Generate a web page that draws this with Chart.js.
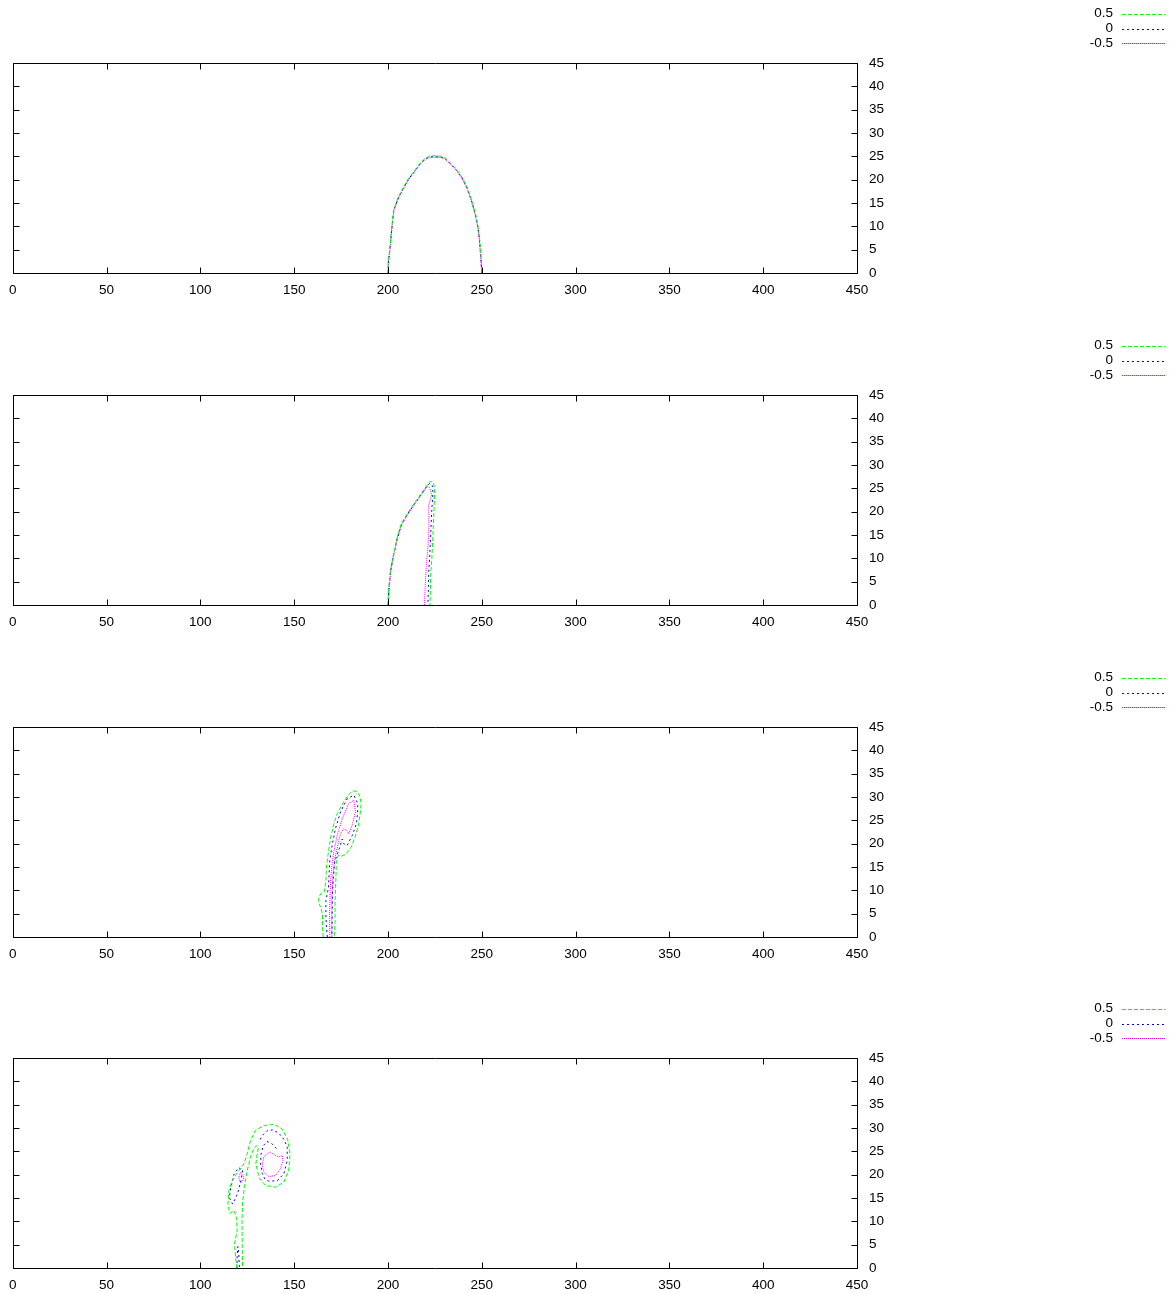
<!DOCTYPE html>
<html>
<head>
<meta charset="utf-8">
<script src="https://cdn.jsdelivr.net/npm/chart.js@4/dist/chart.umd.min.js"></script>
<style>
  html, body { margin: 0; padding: 0; background: #fff; }
  body { width: 1176px; height: 1294px; position: relative; overflow: hidden; }
  .panel { position: absolute; left: 0; width: 1176px; height: 331px; }
</style>
</head>
<body>
<div class="panel" style="top:0px"><canvas id="c1" width="1176" height="331"></canvas></div>
<div class="panel" style="top:332px"><canvas id="c2" width="1176" height="331"></canvas></div>
<div class="panel" style="top:664px"><canvas id="c3" width="1176" height="331"></canvas></div>
<div class="panel" style="top:995px"><canvas id="c4" width="1176" height="331"></canvas></div>
<script>
// ---------- tick labels & levels ----------
const xTicks = [0, 50, 100, 150, 200, 250, 300, 350, 400, 450];
const yTicks = [0, 5, 10, 15, 20, 25, 30, 35, 40, 45];
const levelLabels = ['0.5', '0', '-0.5'];

// ---------- panel 1 contours [x, y] ----------
const p1Green = [[200,0],[200.1,2.5],[200.9,4.9],[201.8,9],[203,13.5],[205.5,16.3],[208.4,18.5],[211,20.3],[213.7,21.7],[216.8,23.4],[219.9,24.6],[222.5,25.1],[226.2,25.1],[228.5,25],[230.6,24.6],[233.5,23.5],[236.8,22.1],[239.5,20.5],[242.1,18.5],[244.5,15.8],[246.6,12.8],[248,10],[248.9,7.1],[249.6,3.5],[250.1,0]];
const p1Blue = [[200.1,0],[200.2,2.5],[201,4.9],[201.9,9],[203.1,13.5],[205.6,16.2],[208.5,18.4],[211.1,20.2],[213.8,21.6],[216.9,23.3],[220,24.5],[222.5,24.9],[226.2,24.9],[228.5,24.8],[230.5,24.5],[233.4,23.4],[236.7,22],[239.4,20.4],[242,18.4],[244.4,15.7],[246.5,12.7],[247.9,10],[248.8,7.1],[249.5,3.5],[250,0]];
const p1Magenta = [[200.2,0],[200.3,2.5],[201.1,4.9],[202,9],[203.2,13.4],[205.7,16.1],[208.6,18.3],[211.2,20.1],[213.9,21.5],[217,23.2],[220.1,24.4],[222.5,24.8],[226.2,24.8],[228.5,24.7],[230.4,24.4],[233.3,23.3],[236.6,21.9],[239.3,20.3],[241.9,18.3],[244.3,15.6],[246.4,12.6],[247.8,9.9],[248.7,7],[249.4,3.5],[249.9,0]];

// ---------- panel 2 ----------
const p2Green = [[200,0],[200.3,3],[201.3,7.3],[203,11],[204.9,14.5],[207.2,17.5],[210.2,19.5],[213.5,21.5],[216.4,23.1],[219,24.6],[221,25.8],[222.6,26.5],[224.3,26.2],[224.9,24.8],[224.5,20],[223.9,14.5],[223.4,10],[222.8,7],[222.6,3],[222.4,0]];
const p2Blue = [[200.1,0],[200.4,3],[201.4,7.3],[203.1,11],[205,14.4],[207.3,17.4],[210.3,19.4],[213.6,21.4],[216.5,23],[219.1,24.5],[221,25.6],[222.3,26.1],[223.6,25.6],[224,24.2],[223.3,20],[222.7,14.5],[222.2,10],[221.7,7],[221.5,3],[221.3,0]];
const p2Magenta = [[200.2,0],[200.5,3],[201.5,7.3],[203.2,11],[205.1,14.3],[207.4,17.3],[210.4,19.3],[213.7,21.3],[216.6,22.9],[219,24.3],[220.8,25.4],[222.2,25.2],[223.3,23.6],[221.7,21.4],[221.8,18],[221.7,14.5],[221,11],[220.5,8.8],[219.9,4.5],[219.4,0]];

// ---------- panel 3 ----------
const p3Green = [[165.5,0],[165.1,2],[165.1,4.9],[164.2,6.3],[163,7.4],[163.2,8.5],[164.2,9.3],[166,9.6],[166.9,12],[167.2,15],[168,17.5],[169.3,21],[171.1,24.2],[173,26.5],[175.6,28.4],[178.5,30.3],[181.2,31.3],[183.3,31.2],[185,30.2],[185.7,28.5],[185.3,26.8],[184.3,24],[182.5,21.5],[180.5,19.3],[177.5,17.7],[175,17.3],[173.5,17.5],[172.5,16.4],[172.2,12],[171.8,7.8],[171.8,3.4],[171.3,0]];
const p3Blue = [[167.7,0],[167.2,2],[166.9,4.9],[166.9,7.8],[168.3,10.6],[168.6,13.5],[169,16.4],[170.2,19.6],[172,23.2],[174.7,26.8],[178.2,29.6],[181.8,30.4],[183.9,28.6],[183.8,26.5],[183.2,24.3],[180.9,21.7],[178.2,19.6],[176.4,20],[175.6,21],[174.5,19.5],[171.5,16],[170.8,12],[170.4,9.2],[170.1,0]];
const p3Magenta = [[169,0],[168.9,5],[169.2,10],[169.6,13],[170.2,15.6],[171.1,18.2],[172.9,21.7],[175.6,25.3],[179.1,28.6],[181.8,29.3],[182.7,26.8],[180.9,23.9],[179.1,22.1],[178.2,22.8],[176.4,23.2],[174.7,22.1],[173.8,20.7],[171.8,17],[170.6,13],[170.1,8],[170.1,0]];

// ---------- panel 4 ----------
const p4Green = [[119.6,0],[118.8,2.2],[118.2,5.1],[119.6,8],[119.3,10.8],[117.9,12.3],[115.7,11.7],[114.7,13.7],[115.2,16.6],[117,18.7],[120.5,20.9],[123.2,22.3],[125,24.5],[126.7,27.3],[129.4,29.5],[133.8,30.5],[139.2,30.8],[143.6,29.8],[146.5,27.6],[147.8,24.5],[147.1,21],[144.5,18.4],[140,17.3],[134.7,17.7],[131.2,19.4],[129.6,22.3],[130.3,24.5],[131,25.8],[129.8,26.2],[128.3,25.4],[126.7,23.8],[125,20.9],[123.5,17.5],[122.5,14],[122.2,10],[122.3,5],[122.5,0]];
const p4Blue1 = [[140.5,25.6],[138,26.7],[135.5,27.1],[133.5,26.2],[132.3,24.3],[132.1,22.3],[133,20.2],[134.5,19],[136.5,18.6],[141,18.7],[144.5,20.2],[146.3,23],[146.3,25.9],[144.5,27.6],[141.8,28.9],[138.5,29.6],[135.5,29.4],[133,28.4],[131.5,27.2]];
const p4Blue2 = [[122.5,20.9],[121.6,18.7],[119.8,15.9],[117.2,13.7],[115.4,15.1],[116.3,17.3],[118,20.2],[120.5,21.5],[122.5,20.9]];
const p4Blue3 = [[119.5,0],[119.6,2.5],[120,4.6],[120.5,3],[120.8,0]];
const p4Magenta1 = [[133.8,23.8],[135.6,24.5],[137.4,24.8],[140,24.1],[141.8,23.8],[143.6,24.1],[144,23],[142.7,21.3],[140,19.8],[136.5,19.6],[133.8,20.5],[133,22],[133.8,23.8]];
const p4Magenta2 = [[120.5,19.5],[121.5,20.5],[122.8,20],[123,19],[122,18.3],[120.8,18.6],[120.5,19.5]];

// ---------- styles ----------
const levelColors = ['#00ff00', '#0000ff', '#ff00ff'];
const levelDash = [[4, 2], [2, 3], [1, 1]];

const panels = [
  { id: 'c1', levels: [[p1Green], [p1Blue], [p1Magenta]] },
  { id: 'c2', levels: [[p2Green], [p2Blue], [p2Magenta]] },
  { id: 'c3', levels: [[p3Green], [p3Blue], [p3Magenta]] },
  { id: 'c4', levels: [[p4Green], [p4Blue1, p4Blue2, p4Blue3], [p4Magenta1, p4Magenta2]] }
];

Chart.defaults.font.family = "'Liberation Sans', Arial, sans-serif";
Chart.defaults.color = '#000';

const framePlugin = {
  id: 'frame',
  afterDraw(chart) {
    const { ctx, chartArea: { left, right, top, bottom }, scales: { x, y } } = chart;
    const L = Math.round(left) + 0.5, R = Math.round(right) + 0.5;
    const T = Math.round(top) + 0.5, B = Math.round(bottom) + 0.5;
    ctx.save();
    ctx.strokeStyle = '#000';
    ctx.lineWidth = 1;
    ctx.beginPath();
    ctx.rect(L, T, R - L, B - T);
    ctx.stroke();
    ctx.beginPath();
    xTicks.forEach(v => {
      const px = Math.round(x.getPixelForValue(v)) + 0.5;
      ctx.moveTo(px, B); ctx.lineTo(px, B - 6);
      ctx.moveTo(px, T); ctx.lineTo(px, T + 6);
    });
    yTicks.forEach(v => {
      const py = Math.round(y.getPixelForValue(v)) + 0.5;
      ctx.moveTo(L, py); ctx.lineTo(L + 6, py);
      ctx.moveTo(R, py); ctx.lineTo(R - 6, py);
    });
    ctx.stroke();
    // legend
    ctx.font = "13.5px 'Liberation Sans', Arial, sans-serif";
    ctx.textAlign = 'right';
    ctx.textBaseline = 'middle';
    const rows = [13.5, 28.5, 43];
    levelLabels.forEach((lab, i) => {
      ctx.fillStyle = '#000';
      ctx.fillText(lab, 1113, rows[i]);
      ctx.beginPath();
      ctx.strokeStyle = levelColors[i];
      ctx.setLineDash(levelDash[i]);
      ctx.moveTo(1122, Math.round(rows[i]) + 0.5);
      ctx.lineTo(1165, Math.round(rows[i]) + 0.5);
      ctx.stroke();
    });
    ctx.restore();
  }
};

panels.forEach(p => {
  const datasets = [];
  p.levels.forEach((pieces, li) => {
    pieces.forEach(pts => {
      datasets.push({
        label: levelLabels[li],
        data: pts.map(([x, y]) => ({ x, y })),
        showLine: true,
        borderColor: levelColors[li],
        borderDash: levelDash[li],
        borderWidth: 1,
        pointRadius: 0,
        tension: 0,
        fill: false
      });
    });
  });
  new Chart(document.getElementById(p.id), {
    type: 'scatter',
    data: { datasets },
    plugins: [framePlugin],
    options: {
      responsive: false,
      animation: false,
      devicePixelRatio: 1,
      events: [],
      layout: { padding: { top: 63, left: 12, right: 0, bottom: 0 } },
      plugins: { legend: { display: false }, tooltip: { enabled: false } },
      scales: {
        x: {
          type: 'linear', position: 'bottom', min: 0, max: 450,
          afterBuildTicks: s => { s.ticks = xTicks.map(v => ({ value: v })); },
          afterFit: s => { s.height = 58; },
          grid: { display: false, drawTicks: false },
          border: { display: false },
          ticks: { padding: 9, maxRotation: 0, autoSkip: false, font: { size: 13.5 }, color: '#000' }
        },
        y: {
          type: 'linear', position: 'right', min: 0, max: 45,
          afterBuildTicks: s => { s.ticks = yTicks.map(v => ({ value: v })); },
          afterFit: s => { s.width = 319; },
          grid: { display: false, drawTicks: false },
          border: { display: false },
          ticks: { padding: 12, autoSkip: false, font: { size: 13.5 }, color: '#000' }
        }
      }
    }
  });
});
</script>
</body>
</html>
